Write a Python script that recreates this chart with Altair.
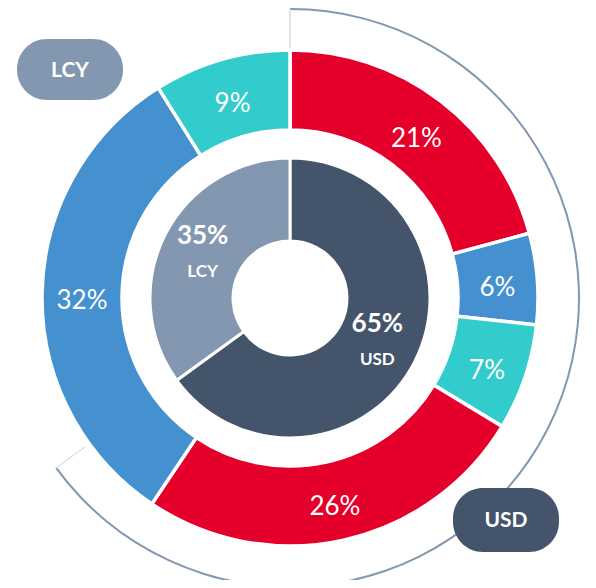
import math
import altair as alt
import pandas as pd

# ---- data ----
outer_values = [21, 6, 7, 26, 32, 9]
outer_types = ["Type A", "Type B", "Type C", "Type A", "Type B", "Type C"]
inner_categories = ["USD", "LCY"]
inner_values = [65, 35]

type_keys = ["Type A", "Type B", "Type C", "USD", "LCY"]
type_colors = ["#e4002b", "#4590ce", "#33cccc", "#44546a", "#8497b0"]


def ring(values, keys):
    total = sum(values)
    rows, cum = [], 0
    for v, k in zip(values, keys):
        rows.append(dict(key=k, value=v, start=cum / total,
                         end=(cum + v) / total, mid=(cum + v / 2) / total,
                         label=f"{v}%"))
        cum += v
    return pd.DataFrame(rows)


outer_df = ring(outer_values, outer_types)
inner_df = ring(inner_values, inner_categories)
bracket_df = inner_df[inner_df["key"] == "USD"].copy()

FONT = "Lato"
CX, CY = 282, 290
theta_scale = alt.Scale(domain=[0, 1], range=[0, 2 * math.pi])
color_scale = alt.Scale(domain=type_keys, range=type_colors)
center = dict(x=alt.value(CX), y=alt.value(CY))

outer = alt.Chart(outer_df).mark_arc(
    radius=248, radius2=168, stroke="white", strokeWidth=3.5
).encode(
    theta=alt.Theta("start:Q", scale=theta_scale, stack=False),
    theta2="end:Q",
    color=alt.Color("key:N", scale=color_scale, legend=None),
    **center,
)

outer_text = alt.Chart(outer_df).mark_text(
    radius=208, dy=6, fontSize=26, font=FONT, color="white", baseline="middle", align="center"
).encode(
    theta=alt.Theta("mid:Q", scale=theta_scale, stack=False),
    text="label:N",
    **center,
)

inner = alt.Chart(inner_df).mark_arc(
    radius=140, radius2=57, stroke="white", strokeWidth=3
).encode(
    theta=alt.Theta("start:Q", scale=theta_scale, stack=False),
    theta2="end:Q",
    color=alt.Color("key:N", scale=color_scale, legend=None),
    **center,
)

inner_pct = alt.Chart(inner_df).mark_text(
    radius=98, dy=-18, fontSize=26, fontWeight="bold", font=FONT, color="white",
    baseline="middle", align="center"
).encode(
    theta=alt.Theta("mid:Q", scale=theta_scale, stack=False),
    text="label:N",
    **center,
)

inner_name = alt.Chart(inner_df).mark_text(
    radius=98, dy=18, fontSize=17, fontWeight="bold", font=FONT, color="white",
    baseline="middle", align="center"
).encode(
    theta=alt.Theta("mid:Q", scale=theta_scale, stack=False),
    text="key:N",
    **center,
)

bracket = alt.Chart(bracket_df).mark_arc(
    radius=290, radius2=288, color="#8497b0"
).encode(
    theta=alt.Theta("start:Q", scale=theta_scale, stack=False),
    theta2="end:Q",
    **center,
)

tick_start = alt.Chart(bracket_df).mark_arc(
    radius=289, radius2=250, stroke="#d6dce5", strokeWidth=1, fillOpacity=0
).encode(
    theta=alt.Theta("start:Q", scale=theta_scale, stack=False),
    theta2="start:Q",
    **center,
)

tick_end = alt.Chart(bracket_df).mark_arc(
    radius=289, radius2=253, stroke="#d6dce5", strokeWidth=1, fillOpacity=0
).encode(
    theta=alt.Theta("end:Q", scale=theta_scale, stack=False),
    theta2="end:Q",
    **center,
)

# pills (annotation boxes)
pill_boxes = {"LCY": (9, 115, 31, 92), "USD": (445, 551, 480, 544)}
pills = []
for name, (x0, x1, y0, y1) in pill_boxes.items():
    d = inner_df[inner_df["key"] == name]
    pills.append(
        alt.Chart(d).mark_rect(cornerRadius=30).encode(
            x=alt.value(x0), x2=alt.value(x1), y=alt.value(y0), y2=alt.value(y1),
            color=alt.Color("key:N", scale=color_scale, legend=None),
        )
    )
    pills.append(
        alt.Chart(d).mark_text(
            fontSize=21, fontWeight="bold", font=FONT, color="white",
            baseline="middle", align="center"
        ).encode(
            x=alt.value((x0 + x1) / 2), y=alt.value((y0 + y1) / 2 + 1), text="key:N"
        )
    )

chart = alt.layer(
    bracket, tick_start, tick_end, outer, outer_text, inner, inner_pct, inner_name, *pills
).properties(
    width=580, height=572, padding=0, autosize=alt.AutoSizeParams(type="none")
).configure_view(stroke=None)

chart.save("out.html", embed_options={"renderer": "svg", "actions": False})
